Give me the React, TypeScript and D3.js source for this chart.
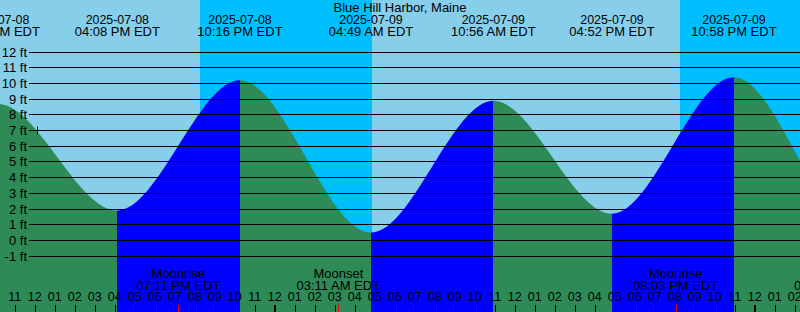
import React from "react";
import * as d3 from "d3";

const W = 800;
const H = 312;

const title = "Blue Hill Harbor, Maine";

// tide extremes (EDT clock times), heights in ft
const tideTimes = [
  "2025-07-08T03:58",
  "2025-07-08T10:09",
  "2025-07-08T16:08",
  "2025-07-08T22:16",
  "2025-07-09T04:49",
  "2025-07-09T10:56",
  "2025-07-09T16:52",
  "2025-07-09T22:58",
  "2025-07-10T05:15",
  "2025-07-10T11:35",
];
const tideHeights = [1.3, 8.7, 1.9, 10.2, 0.5, 8.9, 1.7, 10.4, 0.5, 9.0];

// night intervals (sunset -> sunrise)
const nightStarts = ["2025-07-08T20:15", "2025-07-09T20:15"];
const nightEnds = ["2025-07-09T04:53", "2025-07-10T04:54"];

// moon events
const moonTimes = ["2025-07-08T19:11", "2025-07-09T03:11", "2025-07-09T20:03", "2025-07-10T04:05"];
const moonKinds = ["Moonrise", "Moonset", "Moonrise", "Moonset"];

// current-time marker
const nowTime = "2025-07-08T12:06";
const nowHeight = 7.0;

const yTickValues = [-1, 0, 1, 2, 3, 4, 5, 6, 7, 8, 9, 10, 11, 12];

const domainStart = "2025-07-08T10:16";
const domainEnd = "2025-07-10T02:16";

const DAY = "#87CEEB";
const NIGHT = "#00BFFF";
const FALL = "#2E8B57";
const RISE = "#0000FF";
const FONT = "'Liberation Sans', Arial, Helvetica, sans-serif";

if (typeof document !== "undefined") {
  document.body.style.margin = "0";
}

const parse = d3.utcParse("%Y-%m-%dT%H:%M");
const fmtDate = d3.utcFormat("%Y-%m-%d");
const fmtTime = d3.utcFormat("%I:%M %p");
const fmtHour = d3.utcFormat("%I");

export default function App() {
  const x = d3
    .scaleUtc()
    .domain([parse(domainStart)!, parse(domainEnd)!])
    .range([0, W]);
  const y = d3.scaleLinear().domain([0, 12]).range([240.4, 240.4 - 15.69 * 12]);

  const tides = tideTimes.map((t, i) => ({ t: parse(t)!, h: tideHeights[i] }));

  const area = d3
    .area<{ t: Date; h: number }>()
    .x((d) => x(d.t))
    .y0(H)
    .y1((d) => y(d.h))
    .curve(d3.curveMonotoneX);
  const areaPath = area(tides) || "";

  const segments = tides.slice(0, -1).map((d, i) => ({
    x0: x(d.t),
    x1: x(tides[i + 1].t),
    color: d.h > tides[i + 1].h ? FALL : RISE,
  }));

  const nights = nightStarts.map((s, i) => ({ x0: x(parse(s)!), x1: x(parse(nightEnds[i])!) }));

  const hours = x.ticks(d3.utcHour.every(1)!);

  const moons = moonTimes.map((t, i) => ({ x: x(parse(t)!), kind: moonKinds[i], label: fmtTime(parse(t)!) + " EDT" }));

  const nx = x(parse(nowTime)!);
  const ny = y(nowHeight);

  return (
    <svg width={W} height={H} style={{ display: "block", position: "absolute", left: 0, top: 0 }} fontFamily={FONT} fontSize={13}>
      <defs>
        <clipPath id="tideClip">
          <path d={areaPath} />
        </clipPath>
      </defs>
      <rect x={0} y={0} width={W} height={H} fill={DAY} />
      {nights.map((n, i) => (
        <rect key={"n" + i} x={n.x0} y={0} width={n.x1 - n.x0} height={H} fill={NIGHT} shapeRendering="crispEdges" />
      ))}
      <g clipPath="url(#tideClip)">
        {segments.map((s, i) => (
          <rect key={"s" + i} x={s.x0} y={0} width={s.x1 - s.x0} height={H} fill={s.color} shapeRendering="crispEdges" />
        ))}
      </g>
      {yTickValues.map((v) => {
        const yy = Math.floor(y(v)) + 0.5;
        return (
          <g key={"y" + v}>
            <line x1={29} x2={W} y1={yy} y2={yy} stroke="#000" strokeWidth={1} />
            <text x={27} y={yy + 4} textAnchor="end" fill="#000">
              {v} ft
            </text>
          </g>
        );
      })}
      <line x1={Math.round(nx) + 0.5} x2={Math.round(nx) + 0.5} y1={ny - 4} y2={ny + 4} stroke="#000" strokeWidth={1} />
      <text x={W / 2} y={12} textAnchor="middle" fill="#000">
        {title}
      </text>
      {tides.map((d, i) => (
        <g key={"t" + i}>
          <text x={x(d.t)} y={24} textAnchor="middle" fill="#000" fontSize={12.4}>
            {fmtDate(d.t)}
          </text>
          <text x={x(d.t)} y={36} textAnchor="middle" fill="#000">
            {fmtTime(d.t) + " EDT"}
          </text>
        </g>
      ))}
      {moons.map((m, i) => (
        <g key={"m" + i}>
          <text x={m.x} y={278} textAnchor="middle" fill="#000">
            {m.kind}
          </text>
          <text x={m.x} y={289.5} textAnchor="middle" fill="#000">
            {m.label}
          </text>
        </g>
      ))}
      {hours.map((h, i) => {
        const hx = x(h);
        const midnight = h.getUTCHours() === 0;
        return (
          <g key={"h" + i}>
            <text x={hx} y={301} textAnchor="middle" fill="#000" fontSize={12.5}>
              {fmtHour(h)}
            </text>
            {midnight ? (
              <rect x={Math.round(hx) - 1} y={305} width={2} height={7} fill="#000" />
            ) : (
              <line x1={Math.round(hx) + 0.5} x2={Math.round(hx) + 0.5} y1={305} y2={312} stroke="#000" />
            )}
          </g>
        );
      })}
      {moons.map((m, i) => (
        <line key={"r" + i} x1={Math.round(m.x) + 0.5} x2={Math.round(m.x) + 0.5} y1={305} y2={312} stroke="#FF0000" />
      ))}
    </svg>
  );
}
